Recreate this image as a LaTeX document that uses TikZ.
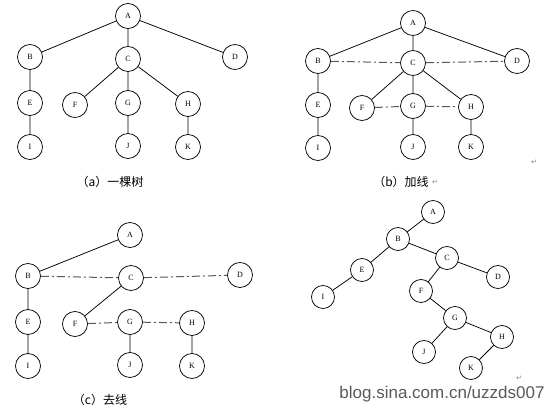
\documentclass[tikz,border=0pt]{standalone}
\usepackage{fontspec}
\usetikzlibrary{positioning}
\setmainfont{Liberation Serif}
\newfontfamily\cjk{Noto Sans CJK SC}
\newfontfamily\symb{DejaVu Sans}
\newfontfamily\wmark{Liberation Sans}
\tikzset{
  vert/.style={draw, circle, minimum size=25pt, inner sep=0pt, font=\fontsize{8}{9}\selectfont, line width=0.75pt},
  small vert/.style={vert, minimum size=23pt},
  addline/.style={draw=black!65, line width=1pt, dash pattern=on 8pt off 3pt on 2pt off 3pt},
  capt/.style={font=\cjk\fontsize{12}{14}\selectfont},
  retmark/.style={font=\symb\fontsize{7}{8}\selectfont, text=black!50}
}
\begin{document}
\begin{tikzpicture}[x=1pt, y=-1pt, line width=0.75pt]
\useasboundingbox (0,0) rectangle (552,413);
% (a) tree
\node[vert] (aA) at (128,16) {A};
\node[vert] (aB) at (30,57) {B};
\node[vert] (aC) at (128,59) {C};
\node[vert] (aD) at (235,57) {D};
\node[vert] (aE) at (30,103) {E};
\node[vert] (aF) at (75,105) {F};
\node[vert] (aG) at (128,103) {G};
\node[vert] (aH) at (188,104) {H};
\node[vert] (aI) at (30,147) {I};
\node[vert] (aJ) at (128,146) {J};
\node[vert] (aK) at (188,147) {K};
\draw (aA)--(aB) (aA)--(aC) (aA)--(aD) (aB)--(aE) (aE)--(aI);
\draw (aC)--(aF) (aC)--(aG) (aC)--(aH) (aG)--(aJ) (aH)--(aK);
\node[capt] (acap) at (110,182) {（a）一棵树};
% (b) add lines
\node[vert] (bA) at (413,23) {A};
\node[vert] (bB) at (318,61) {B};
\node[vert] (bC) at (413,63) {C};
\node[vert] (bD) at (517,61) {D};
\node[vert] (bE) at (318,105) {E};
\node[vert] (bF) at (362,108) {F};
\node[vert] (bG) at (413,106) {G};
\node[vert] (bH) at (471,107) {H};
\node[vert] (bI) at (318,148) {I};
\node[vert] (bJ) at (413,147) {J};
\node[vert] (bK) at (471,147) {K};
\draw (bA)--(bB) (bA)--(bC) (bA)--(bD) (bB)--(bE) (bE)--(bI);
\draw (bC)--(bF) (bC)--(bG) (bC)--(bH) (bG)--(bJ) (bH)--(bK);
\draw[addline] (bB)--(bC) (bC)--(bD) (bF)--(bG) (bG)--(bH);
\node[capt] (bcap) at (401,182) {（b）加线};
\node[retmark, right=-4pt of bcap.east] (bret) {↵};
\node[retmark] (bret2) at (534,162) {↵};
% (c) remove lines
\node[vert] (cA) at (130,235) {A};
\node[vert] (cB) at (28,276) {B};
\node[vert] (cC) at (131,278) {C};
\node[vert] (cD) at (240,275) {D};
\node[vert] (cE) at (28,322) {E};
\node[vert] (cF) at (75,324) {F};
\node[vert] (cG) at (130,322) {G};
\node[vert] (cH) at (192,323) {H};
\node[vert] (cI) at (28,366) {I};
\node[vert] (cJ) at (130,365) {J};
\node[vert] (cK) at (192,366) {K};
\draw (cA)--(cB) (cB)--(cE) (cE)--(cI) (cC)--(cF) (cG)--(cJ) (cH)--(cK);
\draw[addline] (cB)--(cC) (cC)--(cD) (cF)--(cG) (cG)--(cH);
\node[capt] (ccap) at (100,400) {（c）去线};
% (d) binary tree
\node[small vert] (dA) at (433,212) {A};
\node[small vert] (dB) at (398,239) {B};
\node[small vert] (dC) at (447,258) {C};
\node[small vert] (dD) at (498,277) {D};
\node[small vert] (dE) at (362,270) {E};
\node[small vert] (dF) at (421,291) {F};
\node[small vert] (dG) at (455,318) {G};
\node[small vert] (dH) at (502,337) {H};
\node[small vert] (dI) at (323,297) {I};
\node[small vert] (dJ) at (424,352) {J};
\node[small vert] (dK) at (471,368) {K};
\draw (dA)--(dB) (dB)--(dE) (dE)--(dI) (dB)--(dC) (dC)--(dD) (dC)--(dF);
\draw (dF)--(dG) (dG)--(dJ) (dG)--(dH) (dH)--(dK);
\node[retmark] (dret) at (519,378) {↵};
\node[font=\wmark\fontsize{17}{18}\selectfont, text=black!65] (wm) at (442,394) {blog.sina.com.cn/uzzds007};
\end{tikzpicture}
\end{document}
